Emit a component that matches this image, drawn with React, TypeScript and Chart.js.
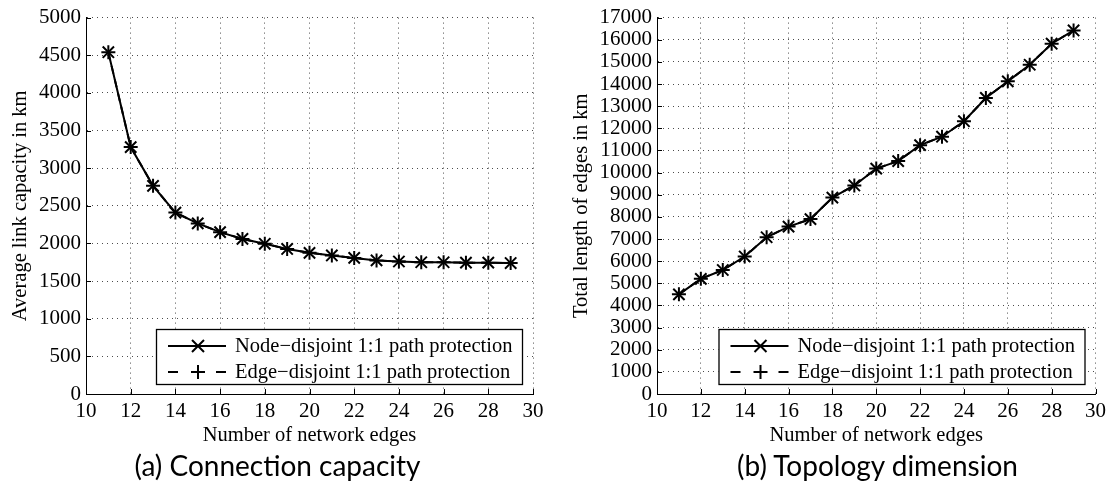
import React, { useEffect, useRef } from 'react';
import { Chart, registerables } from 'chart.js';

Chart.register(...registerables);

// ---- data ----
const edges = [11, 12, 13, 14, 15, 16, 17, 18, 19, 20, 21, 22, 23, 24, 25, 26, 27, 28, 29];
const nodeCapacity = [4540, 3280, 2765, 2410, 2266, 2150, 2060, 1995, 1927, 1875, 1840, 1808, 1775, 1760, 1750, 1750, 1745, 1745, 1740];
const edgeCapacity = [4540, 3280, 2765, 2410, 2266, 2150, 2060, 1995, 1927, 1875, 1840, 1808, 1775, 1760, 1750, 1750, 1745, 1745, 1740];
const nodeLength = [4500, 5200, 5600, 6210, 7080, 7560, 7900, 8870, 9420, 10180, 10520, 11240, 11620, 12320, 13370, 14120, 14870, 15820, 16420];
const edgeLength = [4500, 5200, 5600, 6210, 7080, 7560, 7900, 8870, 9420, 10180, 10520, 11240, 11620, 12320, 13370, 14120, 14870, 15820, 16420];
const seriesLabels = ['Node\u2212disjoint 1:1 path protection', 'Edge\u2212disjoint 1:1 path protection'];
const xTitle = 'Number of network edges';
const captions = ['(a) Connection capacity', '(b) Topology dimension'];

const SERIF = "'Liberation Serif', 'Times New Roman', serif";

function drawMarker(ctx: CanvasRenderingContext2D, style: string, x: number, y: number, r: number) {
  ctx.beginPath();
  if (style === 'cross') {
    ctx.moveTo(x - r, y); ctx.lineTo(x + r, y);
    ctx.moveTo(x, y - r); ctx.lineTo(x, y + r);
  } else {
    const d = r * 0.75;
    ctx.moveTo(x - d, y - d); ctx.lineTo(x + d, y + d);
    ctx.moveTo(x - d, y + d); ctx.lineTo(x + d, y - d);
  }
  ctx.stroke();
}

const legendBox = {
  id: 'legendBox',
  afterDraw(chart: any) {
    const { ctx, chartArea } = chart;
    const w = 366, h = 55;
    const right = chartArea.right - 11;
    const bottom = chartArea.bottom - 10;
    const left = right - w, top = bottom - h;
    ctx.save();
    ctx.fillStyle = '#fff';
    ctx.fillRect(left, top, w, h);
    ctx.strokeStyle = '#000';
    ctx.lineWidth = 1.3;
    ctx.strokeRect(left + 0.5, top + 0.5, w, h);
    chart.data.datasets.forEach((ds: any, i: number) => {
      const y = top + 17 + i * 26;
      ctx.strokeStyle = '#000';
      ctx.lineWidth = 2;
      ctx.setLineDash(i === 0 ? [] : [10, 38]);
      ctx.beginPath();
      ctx.moveTo(left + 12, y);
      ctx.lineTo(left + 70, y);
      ctx.stroke();
      ctx.setLineDash([]);
      drawMarker(ctx, ds.pointStyle, left + 42, y, i === 0 ? 8 : 7);
      ctx.fillStyle = '#000';
      ctx.font = `20.5px ${SERIF}`;
      ctx.textBaseline = 'middle';
      ctx.textAlign = 'left';
      ctx.fillText(ds.label, left + 79, y + 1);
    });
    ctx.restore();
  },
};

const inwardTicks = {
  id: 'inwardTicks',
  afterDatasetsDraw(chart: any) {
    const { ctx, chartArea, scales } = chart;
    ctx.save();
    ctx.strokeStyle = '#000';
    ctx.lineWidth = 1;
    ctx.beginPath();
    scales.x.ticks.forEach((t: any) => {
      const px = Math.round(scales.x.getPixelForValue(t.value)) + 0.5;
      ctx.moveTo(px, chartArea.bottom);
      ctx.lineTo(px, chartArea.bottom - 5);
    });
    scales.y.ticks.forEach((t: any) => {
      const py = Math.round(scales.y.getPixelForValue(t.value)) + 0.5;
      ctx.moveTo(chartArea.left, py);
      ctx.lineTo(chartArea.left + 5, py);
    });
    ctx.stroke();
    ctx.restore();
  },
};

function makeConfig(nodeData: number[], edgeData: number[], yMax: number, yStep: number, yTitle: string, yWidth: number, yTitlePad: number, rightPad: number) {
  const tickFont = { family: SERIF, size: 21 };
  const titleFont = { family: SERIF, size: 20.5 };
  return {
    type: 'line' as const,
    data: {
      datasets: [
        {
          label: seriesLabels[0],
          data: edges.map((x, i) => ({ x, y: nodeData[i] })),
          borderColor: '#000',
          backgroundColor: '#000',
          borderWidth: 2,
          pointStyle: 'crossRot',
          pointRadius: 8,
          pointBorderWidth: 2,
          pointBorderColor: '#000',
          tension: 0,
        },
        {
          label: seriesLabels[1],
          data: edges.map((x, i) => ({ x, y: edgeData[i] })),
          borderColor: '#000',
          backgroundColor: '#000',
          borderWidth: 2,
          borderDash: [8, 6],
          pointStyle: 'cross',
          pointRadius: 7,
          pointBorderWidth: 2,
          pointBorderColor: '#000',
          tension: 0,
        },
      ],
    },
    options: {
      responsive: false,
      animation: false as const,
      layout: { padding: { top: 16, right: rightPad, left: 0, bottom: 0 } },
      plugins: { legend: { display: false }, tooltip: { enabled: false } },
      scales: {
        x: {
          type: 'linear' as const,
          min: 10,
          max: 30,
          grid: { color: 'rgba(0,0,0,0.7)', lineWidth: 1, drawTicks: false },
          border: { display: true, color: '#000', width: 1, dash: [1, 4] },
          ticks: {
            stepSize: 2,
            autoSkip: false,
            color: '#000',
            padding: 5,
            font: { ...tickFont },
            maxRotation: 0,
            callback: (v: any) => String(v),
          },
          title: { display: true, text: xTitle, color: '#000', font: { ...titleFont }, padding: { top: 0, bottom: 7 } },
          afterFit: (s: any) => { s.height = 61; },
        },
        y: {
          type: 'linear' as const,
          min: 0,
          max: yMax,
          grid: { color: 'rgba(0,0,0,0.7)', lineWidth: 1, drawTicks: false },
          border: { display: true, color: '#000', width: 1, dash: [1, 4] },
          ticks: {
            stepSize: yStep,
            autoSkip: false,
            color: '#000',
            padding: 5,
            font: { ...tickFont },
            callback: (v: any) => String(v),
          },
          title: { display: true, text: yTitle, color: '#000', font: { ...titleFont }, padding: { top: yTitlePad, bottom: 0 } },
          afterFit: (s: any) => { s.width = yWidth; },
        },
      },
    },
    plugins: [inwardTicks, legendBox],
  };
}

function ChartCanvas({ which, width, height, left }: { which: number; width: number; height: number; left: number }) {
  const ref = useRef<HTMLCanvasElement | null>(null);
  useEffect(() => {
    if (!ref.current) return;
    const config: any =
      which === 0
        ? makeConfig(nodeCapacity, edgeCapacity, 5000, 500, 'Average link capacity in km', 86, 8, 22)
        : makeConfig(nodeLength, edgeLength, 17000, 1000, 'Total length of edges in km', 102, 14, 14);
    const chart = new Chart(ref.current, config);
    return () => chart.destroy();
  }, [which]);
  return (
    <canvas
      ref={ref}
      width={width}
      height={height}
      style={{ position: 'absolute', left, top: 0, width, height }}
    />
  );
}

export default function App() {
  const captionStyle = (left: number): React.CSSProperties => ({
    position: 'absolute',
    left,
    top: 448,
    width: 555,
    textAlign: 'center',
    fontFamily: "Lato, 'Noto Sans', sans-serif",
    fontSize: 28,
    lineHeight: '34px',
    color: '#000',
  });
  return (
    <div style={{ position: 'fixed', left: 0, top: 0, width: 1111, height: 490, background: '#fff', overflow: 'hidden' }}>
      <ChartCanvas which={0} width={555} height={455} left={0} />
      <ChartCanvas which={1} width={556} height={455} left={555} />
      <div style={captionStyle(0)}>{captions[0]}</div>
      <div style={captionStyle(600)}>{captions[1]}</div>
    </div>
  );
}
